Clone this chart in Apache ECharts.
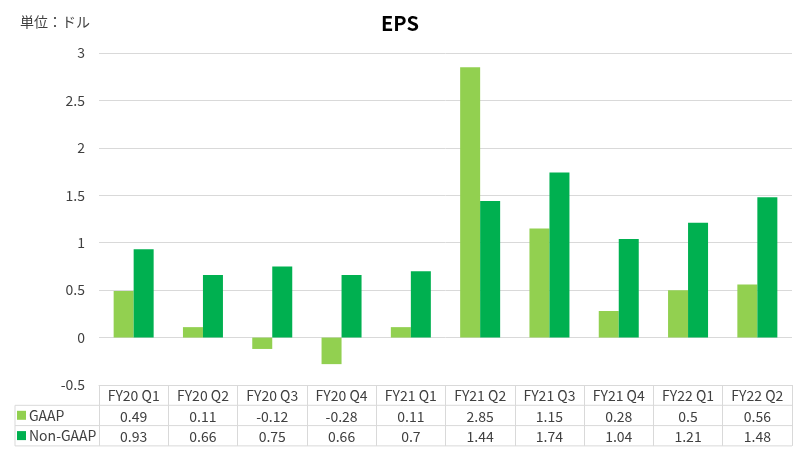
<!DOCTYPE html>
<html><head><meta charset="utf-8">
<script src="https://cdn.jsdelivr.net/npm/echarts@6/dist/echarts.min.js"></script>
<style>html,body{margin:0;padding:0;background:#fff}#c{width:800px;height:450px}</style>
</head><body><div id="c"></div>
<script>
const categories = ['FY20 Q1','FY20 Q2','FY20 Q3','FY20 Q4','FY21 Q1','FY21 Q2','FY21 Q3','FY21 Q4','FY22 Q1','FY22 Q2'];
const gaap = [0.49, 0.11, -0.12, -0.28, 0.11, 2.85, 1.15, 0.28, 0.5, 0.56];
const nonGaap = [0.93, 0.66, 0.75, 0.66, 0.7, 1.44, 1.74, 1.04, 1.21, 1.48];
const seriesNames = ['GAAP', 'Non-GAAP'];
const colors = ['#92D050', '#00B050'];

const FONT = '"Noto Sans CJK JP", "Noto Sans", sans-serif';
const TXT = '#404040';
const LINE = '#d9d9d9';
const chart = echarts.init(document.getElementById('c'));

const gridLeft = 99, gridRight = 8, gridTop = 53, gridBottom = 65;
const H = 450, W = 800;
const axisY = H - gridBottom;        // 385
const rowH = 20.3;

function labelAxis(vals, off) {
  return {
    type: 'category', data: categories, position: 'bottom', offset: off,
    axisLine: {show: false}, axisTick: {show: false},
    axisLabel: {interval: 0, margin: 4, fontFamily: FONT, fontSize: 14, color: TXT,
      formatter: (v, i) => String(vals[i])}
  };
}
function legendAt(name, row) {
  return {orient: 'vertical', left: 17, top: axisY + row * rowH + 1, padding: 0,
    itemWidth: 9, itemHeight: 9, itemGap: 0, icon: 'rect', data: [name],
    textStyle: {fontFamily: FONT, fontSize: 14, color: TXT, padding: [0, 0, 0, -2], lineHeight: 18}};
}

chart.setOption({
  animation: false,
  textStyle: {fontFamily: FONT},
  title: {text: 'EPS', left: 'center', top: 8,
    textStyle: {fontFamily: FONT, fontSize: 20, fontWeight: 'bold', color: '#000'}},
  color: colors,
  legend: [legendAt(seriesNames[0], 1), legendAt(seriesNames[1], 2)],
  grid: {left: gridLeft, right: gridRight, top: gridTop, bottom: gridBottom},
  xAxis: [
    {type: 'category', data: categories, position: 'bottom',
      axisLine: {show: true, onZero: false, lineStyle: {color: LINE}},
      axisTick: {show: true, length: 3 * rowH, lineStyle: {color: LINE}},
      axisLabel: {interval: 0, margin: 4, fontFamily: FONT, fontSize: 14, color: TXT}},
    labelAxis(gaap, rowH),
    labelAxis(nonGaap, 2 * rowH)
  ],
  yAxis: {type: 'value', min: -0.5, max: 3, interval: 0.5,
    axisLine: {show: false}, axisTick: {show: false},
    axisLabel: {fontFamily: FONT, fontSize: 14, color: TXT, margin: 14},
    splitLine: {lineStyle: {color: LINE}}},
  graphic: [
    {type: 'text', left: 20, top: 15, style: {text: '単位：ドル', font: '14px ' + FONT, fill: TXT}},
    {type: 'line', shape: {x1: 15, y1: axisY + rowH, x2: W - gridRight, y2: axisY + rowH}, style: {stroke: LINE, lineWidth: 1}},
    {type: 'line', shape: {x1: 15, y1: axisY + 2 * rowH, x2: W - gridRight, y2: axisY + 2 * rowH}, style: {stroke: LINE, lineWidth: 1}},
    {type: 'line', shape: {x1: 15, y1: axisY + 3 * rowH, x2: W - gridRight, y2: axisY + 3 * rowH}, style: {stroke: LINE, lineWidth: 1}},
    {type: 'line', shape: {x1: 15, y1: axisY + rowH, x2: 15, y2: axisY + 3 * rowH}, style: {stroke: LINE, lineWidth: 1}}
  ],
  series: [
    {name: seriesNames[0], type: 'bar', data: gaap, barWidth: 20, barGap: '0%', xAxisIndex: 0},
    {name: seriesNames[1], type: 'bar', data: nonGaap, barWidth: 20, barGap: '0%', xAxisIndex: 0}
  ]
});
</script></body></html>
